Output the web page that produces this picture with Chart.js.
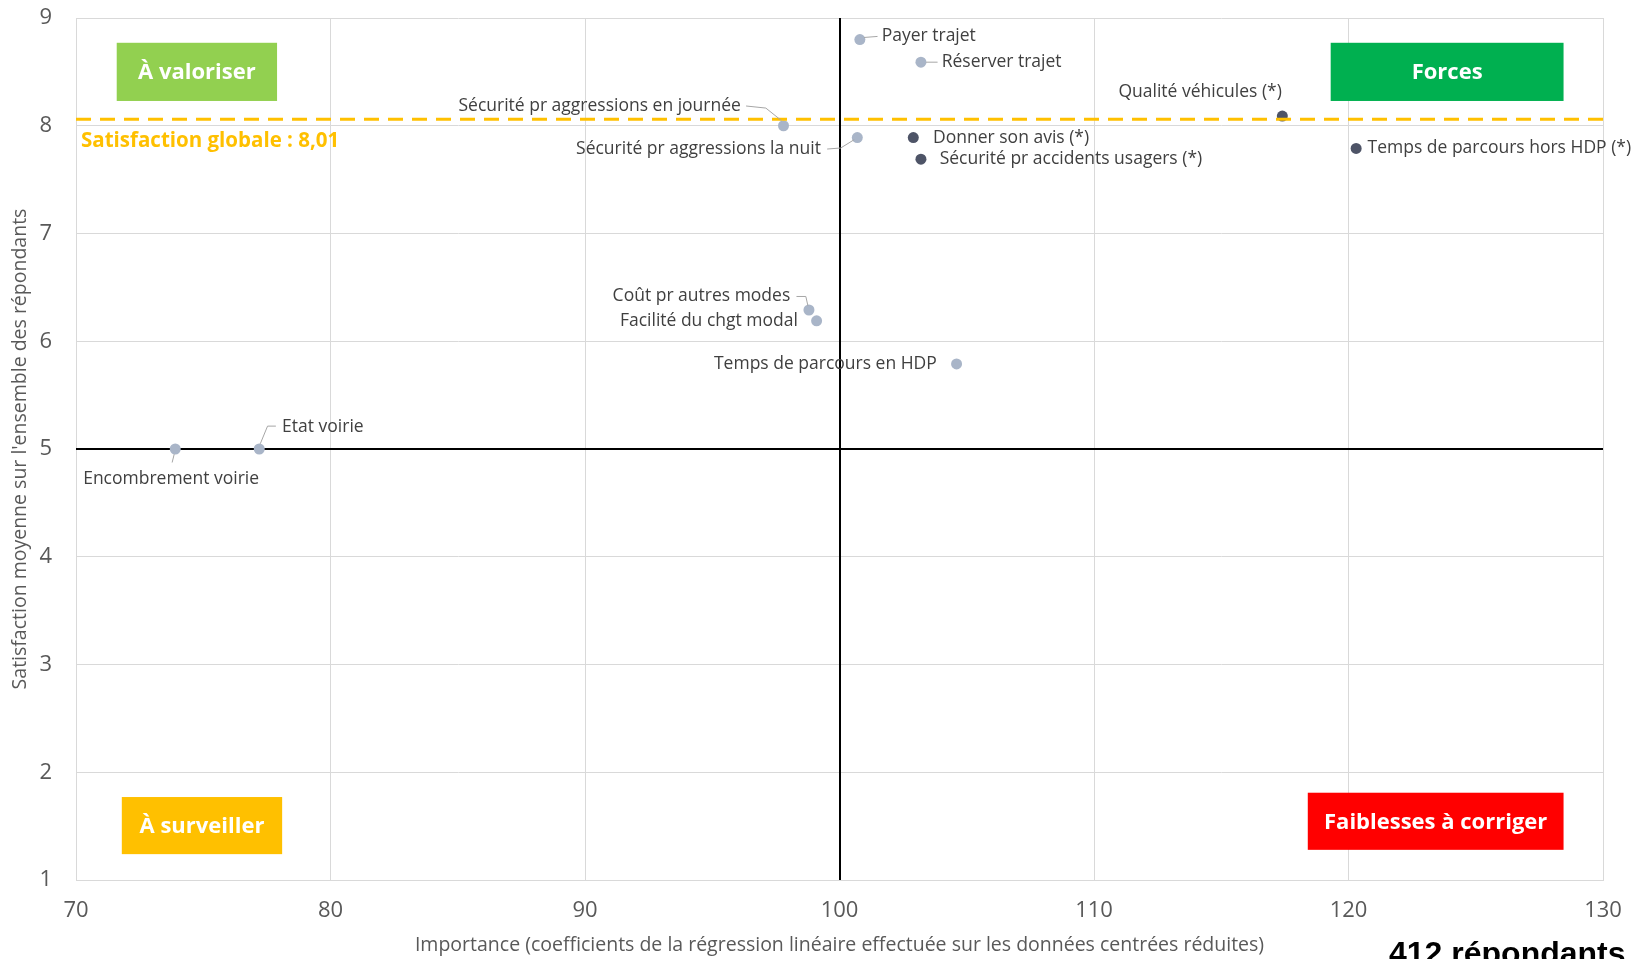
<!DOCTYPE html>
<html>
<head>
<meta charset="UTF-8">
<title>Matrice importance / satisfaction</title>
<script src="https://cdn.jsdelivr.net/npm/chart.js"></script>
<style>
  html, body { margin: 0; padding: 0; background: #fff; }
  #wrap { width: 1632px; height: 959px; overflow: hidden; }
</style>
</head>
<body>
<div id="wrap"><canvas id="myChart" width="1632" height="959"></canvas></div>
<script>
// --- data ---
const labels = [
  'Payer trajet', 'Réserver trajet', 'Qualité véhicules (*)',
  'Sécurité pr aggressions en journée', 'Sécurité pr aggressions la nuit',
  'Donner son avis (*)', 'Sécurité pr accidents usagers (*)',
  'Temps de parcours hors HDP (*)', 'Coût pr autres modes',
  'Facilité du chgt modal', 'Temps de parcours en HDP',
  'Etat voirie', 'Encombrement voirie'
];
const importance = [100.8, 103.2, 117.4, 97.8, 100.7, 102.9, 103.2, 120.3, 98.8, 99.1, 104.6, 77.2, 73.9];
const satisfaction = [8.80, 8.59, 8.09, 8.00, 7.89, 7.89, 7.69, 7.79, 6.29, 6.19, 5.79, 5.00, 5.00];
const starred = [false, false, true, false, false, true, true, true, false, false, false, false, false];

const xTicks = [70, 80, 90, 100, 110, 120, 130];
const yTicks = [1, 2, 3, 4, 5, 6, 7, 8, 9];
const xCross = 100;
const yCross = 5;
const globalSat = 8.06;
const globalSatText = 'Satisfaction globale : 8,01';
const quadrantNames = ['À valoriser', 'Forces', 'À surveiller', 'Faiblesses à corriger'];
const respondents = '412 répondants';
const xTitle = 'Importance (coefficients de la régression linéaire effectuée sur les données centrées réduites)';
const yTitle = "Satisfaction moyenne sur l'ensemble des répondants";

// --- layout / style ---
const S = 1.04;
// label offsets from the point, in px (dx, dy, align, leader polyline)
const labelLayout = [
  { dx: 21, dy: -3, align: 'left', leader: [[4, -2], [17, -3]] },
  { dx: 20, dy: 0, align: 'left', leader: [[5, 0], [16, 0]] },
  { dx: -79, dy: -23, align: 'center' },
  { dx: -41, dy: -19, align: 'right', leader: [[-36, -19], [-17, -17], [-2, -5]] },
  { dx: -35, dy: 11, align: 'right', leader: [[-29, 11], [-16, 10], [-3, 2]] },
  { dx: 19, dy: 0, align: 'left' },
  { dx: 18, dy: 0, align: 'left' },
  { dx: 11, dy: 0, align: 'left' },
  { dx: -18, dy: -13, align: 'right', leader: [[-12, -13], [-3, -13], [-1, -4]] },
  { dx: -18, dy: 0, align: 'right' },
  { dx: -19, dy: 0, align: 'right' },
  { dx: 22, dy: -21, align: 'left', leader: [[16, -22], [8, -22], [1, -5]] },
  { dx: -4, dy: 29, align: 'center', leader: [[-1, 5], [-3, 13]] }
];
// boxes in data units: x0, x1, y0, y1
const quadrantBoxes = [
  { x0: 71.6, x1: 77.9, y0: 8.23, y1: 8.77, color: '#92D050' },
  { x0: 119.3, x1: 128.45, y0: 8.23, y1: 8.77, color: '#00B050' },
  { x0: 71.8, x1: 78.1, y0: 1.24, y1: 1.77, color: '#FFC000' },
  { x0: 118.4, x1: 128.45, y0: 1.28, y1: 1.81, color: '#FF0000' }
];

const points = importance.map((x, i) => ({ x: x, y: satisfaction[i] }));
const colors = starred.map(s => s ? '#4E5467' : '#A9B5C8');

const overlayPlugin = {
  id: 'overlay',
  beforeDatasetsDraw(chart) {
    const { ctx, chartArea: a, scales: { x, y } } = chart;
    ctx.save();
    ctx.strokeStyle = '#000';
    ctx.lineWidth = 2;
    ctx.beginPath();
    const px = Math.round(x.getPixelForValue(xCross));
    ctx.moveTo(px, a.top);
    ctx.lineTo(px, a.bottom);
    const py = Math.round(y.getPixelForValue(yCross));
    ctx.moveTo(a.left, py);
    ctx.lineTo(a.right, py);
    ctx.stroke();

    // quadrant boxes
    quadrantBoxes.forEach((b, i) => {
      const l = x.getPixelForValue(b.x0), r = x.getPixelForValue(b.x1);
      const t = y.getPixelForValue(b.y1), bt = y.getPixelForValue(b.y0);
      ctx.fillStyle = b.color;
      ctx.fillRect(l, t, r - l, bt - t);
      ctx.fillStyle = '#fff';
      ctx.font = 'bold 22px "Open Sans"';
      ctx.textAlign = 'center';
      ctx.textBaseline = 'middle';
      ctx.fillText(quadrantNames[i], (l + r) / 2, (t + bt) / 2 + 1);
    });
    ctx.restore();
  },
  afterDatasetsDraw(chart) {
    const { ctx, chartArea: a, scales: { x, y } } = chart;
    ctx.save();
    // global satisfaction line
    const gy = y.getPixelForValue(globalSat);
    ctx.strokeStyle = '#FFC000';
    ctx.lineWidth = 3;
    ctx.setLineDash([15, 9]);
    ctx.beginPath();
    ctx.moveTo(a.left, gy);
    ctx.lineTo(a.right, gy);
    ctx.stroke();
    ctx.setLineDash([]);
    ctx.fillStyle = '#FFC000';
    ctx.font = 'bold 20.5px "Open Sans"';
    ctx.textAlign = 'left';
    ctx.textBaseline = 'middle';
    ctx.fillText(globalSatText, a.left + 5, gy + 22);

    // point labels
    ctx.font = '17.5px "Open Sans"';
    labels.forEach((txt, i) => {
      const L = labelLayout[i];
      const px = x.getPixelForValue(importance[i]);
      const py = y.getPixelForValue(satisfaction[i]);
      if (L.leader) {
        ctx.strokeStyle = '#A6A6A6';
        ctx.lineWidth = 1;
        ctx.beginPath();
        L.leader.forEach((p, j) => {
          const lx = px + p[0] * S, ly = py + p[1] * S;
          if (j === 0) ctx.moveTo(lx, ly); else ctx.lineTo(lx, ly);
        });
        ctx.stroke();
      }
      ctx.fillStyle = '#404040';
      ctx.textAlign = L.align;
      ctx.fillText(txt, px + L.dx * S, py + L.dy * S);
    });

    // respondents count, cut by the bottom edge
    ctx.fillStyle = '#000';
    ctx.font = 'bold 32px "Liberation Sans"';
    ctx.textAlign = 'left';
    ctx.textBaseline = 'alphabetic';
    ctx.fillText(respondents, 1389, 964);
    ctx.restore();
  }
};

const ctx = document.getElementById('myChart').getContext('2d');
const chart = new Chart(ctx, {
  type: 'scatter',
  data: {
    datasets: [{
      data: points,
      pointBackgroundColor: colors,
      pointBorderWidth: 0,
      pointRadius: 5.5
    }]
  },
  options: {
    responsive: false,
    animation: false,
    layout: { padding: { top: 18, right: 29, left: 0, bottom: 0 } },
    plugins: { legend: { display: false }, tooltip: { enabled: false } },
    scales: {
      x: {
        type: 'linear', min: xTicks[0], max: xTicks[xTicks.length - 1],
        afterBuildTicks: s => { s.ticks = xTicks.map(v => ({ value: v })); },
        afterFit: s => { s.height = 79; s.paddingLeft = 0; s.paddingRight = 0; },
        ticks: { padding: 18, color: '#595959', font: { family: 'Open Sans', size: 22 } },
        grid: { color: '#D9D9D9', drawTicks: false },
        border: { color: '#D9D9D9' },
        title: { display: true, text: xTitle, color: '#595959', font: { family: 'Open Sans', size: 19.5 }, padding: { top: 0, bottom: 2 } }
      },
      y: {
        type: 'linear', min: yTicks[0], max: yTicks[yTicks.length - 1],
        afterBuildTicks: s => { s.ticks = yTicks.map(v => ({ value: v })); },
        afterFit: s => { s.width = 76; s.paddingTop = 0; s.paddingBottom = 0; },
        ticks: { padding: 24, color: '#595959', font: { family: 'Open Sans', size: 22 } },
        grid: { color: '#D9D9D9', drawTicks: false },
        border: { color: '#D9D9D9' },
        title: { display: true, text: yTitle, color: '#595959', font: { family: 'Open Sans', size: 19.5 }, padding: { top: 9, bottom: 0 } }
      }
    }
  },
  plugins: [overlayPlugin]
});
</script>
</body>
</html>
